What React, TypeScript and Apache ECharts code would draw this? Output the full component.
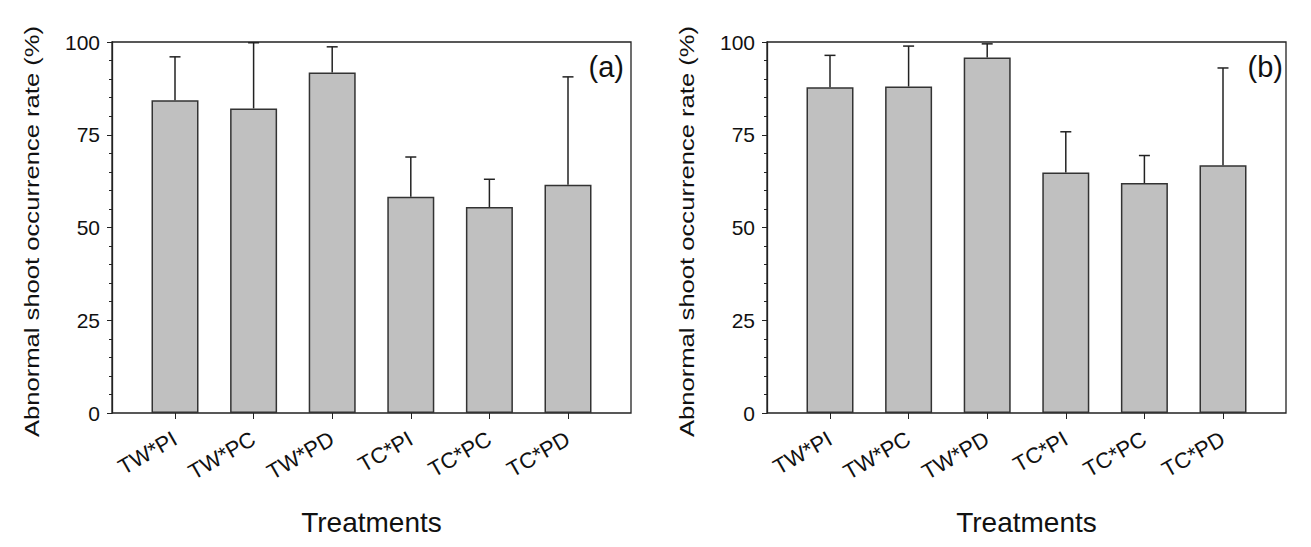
import React, { useEffect, useRef } from "react";
import * as echarts from "echarts";

const categories = ["TW*PI", "TW*PC", "TW*PD", "TC*PI", "TC*PC", "TC*PD"];
const meansA = [84.3, 82.1, 91.8, 58.3, 55.5, 61.5];
const upperA = [96.0, 99.8, 98.7, 69.0, 63.0, 90.6];
const meansB = [87.8, 88.0, 95.8, 64.8, 62.0, 66.8];
const upperB = [96.4, 98.9, 99.5, 75.8, 69.4, 93.0];
const yTicks = [0, 25, 50, 75, 100];
const panelLabels = ["(a)", "(b)"];
const yTitle = "Abnormal shoot occurrence rate (%)";
const xTitle = "Treatments";

const FONT = "Liberation Sans, Arial, sans-serif";
const INK = "#222";

export default function App() {
  const ref = useRef<HTMLDivElement>(null);

  useEffect(() => {
    document.body.style.margin = "0";
    if (!ref.current) return;
    const chart = echarts.init(ref.current, undefined, { renderer: "svg" });

    const frames = [
      { left: 112, top: 42, width: 519, height: 371 },
      { left: 767, top: 42, width: 519, height: 371 },
    ];
    const inset = 23.7;
    const bandW = 471.6;

    const grids: any[] = [];
    const xAxes: any[] = [];
    const yAxes: any[] = [];
    const series: any[] = [];
    const graphics: any[] = [];

    const datasets = [
      { means: meansA, upper: upperA },
      { means: meansB, upper: upperB },
    ];

    frames.forEach((f, p) => {
      const gFrame = grids.length;
      grids.push({
        left: f.left,
        top: f.top,
        width: f.width,
        height: f.height,
        show: true,
        borderColor: INK,
        borderWidth: 1.3,
        backgroundColor: "transparent",
        containLabel: false,
      });
      const gBars = grids.length;
      grids.push({
        left: f.left + inset,
        top: f.top,
        width: bandW,
        height: f.height,
        containLabel: false,
      });

      xAxes.push({ gridIndex: gFrame, type: "value", show: false, min: 0, max: 1 });
      yAxes.push({
        gridIndex: gFrame,
        type: "value",
        min: yTicks[0],
        max: yTicks[yTicks.length - 1],
        interval: 25,
        axisLine: { show: true, lineStyle: { color: INK, width: 1.3 } },
        axisTick: { show: true, inside: false, length: 5, lineStyle: { color: INK, width: 1 } },
        minorTick: { show: true, splitNumber: 5, length: 3, lineStyle: { color: INK, width: 1 } },
        splitLine: { show: false },
        axisLabel: {
          show: true,
          margin: 12,
          fontSize: 21,
          fontFamily: FONT,
          color: "#111",
        },
      });

      const xi = xAxes.length;
      xAxes.push({
        gridIndex: gBars,
        type: "category",
        data: categories,
        boundaryGap: true,
        axisLine: { show: false },
        axisTick: { show: true, alignWithLabel: true, length: 6, lineStyle: { color: INK, width: 1 } },
        axisLabel: {
          rotate: 30,
          margin: 24,
          fontSize: 22,
          fontFamily: FONT,
          color: "#111",
          interval: 0,
        },
      });
      const yi = yAxes.length;
      yAxes.push({ gridIndex: gBars, type: "value", min: 0, max: 100, show: false });

      const d = datasets[p];
      series.push({
        type: "bar",
        xAxisIndex: xi,
        yAxisIndex: yi,
        data: d.means,
        barWidth: 47,
        itemStyle: { color: "#c0c0c0", borderColor: "#333", borderWidth: 1.5 },
        z: 2,
      });
      series.push({
        type: "custom",
        xAxisIndex: xi,
        yAxisIndex: yi,
        data: d.means.map((m, i) => [i, m, d.upper[i]]),
        z: 3,
        renderItem: (params: any, api: any) => {
          const i = api.value(0);
          const base = api.coord([i, api.value(1)]);
          const top = api.coord([i, api.value(2)]);
          const style = { stroke: INK, lineWidth: 1.5 };
          return {
            type: "group",
            children: [
              { type: "line", shape: { x1: base[0], y1: base[1], x2: top[0], y2: top[1] }, style },
              { type: "line", shape: { x1: top[0] - 5.5, y1: top[1], x2: top[0] + 5.5, y2: top[1] }, style },
            ],
          };
        },
      });

      graphics.push({
        type: "text",
        x: f.left - 80,
        y: f.top + f.height / 2 + 4,
        rotation: Math.PI / 2,
        scaleX: 1.28,
        style: {
          text: yTitle,
          fontSize: 20,
          fontFamily: FONT,
          fill: "#111",
          align: "center",
          verticalAlign: "middle",
        },
      });
      graphics.push({
        type: "text",
        x: f.left + f.width / 2,
        y: 522,
        style: {
          text: xTitle,
          fontSize: 28,
          fontFamily: FONT,
          fill: "#111",
          align: "center",
          verticalAlign: "middle",
        },
      });
      graphics.push({
        type: "text",
        x: p === 0 ? 624 : 1283,
        y: 67,
        style: {
          text: panelLabels[p],
          fontSize: 29,
          fontFamily: FONT,
          fill: "#111",
          align: "right",
          verticalAlign: "middle",
        },
      });
    });

    chart.setOption({
      animation: false,
      backgroundColor: "#fff",
      grid: grids,
      xAxis: xAxes,
      yAxis: yAxes,
      series,
      graphic: graphics,
    });

    return () => chart.dispose();
  }, []);

  return <div ref={ref} style={{ width: 1311, height: 547 }} />;
}
